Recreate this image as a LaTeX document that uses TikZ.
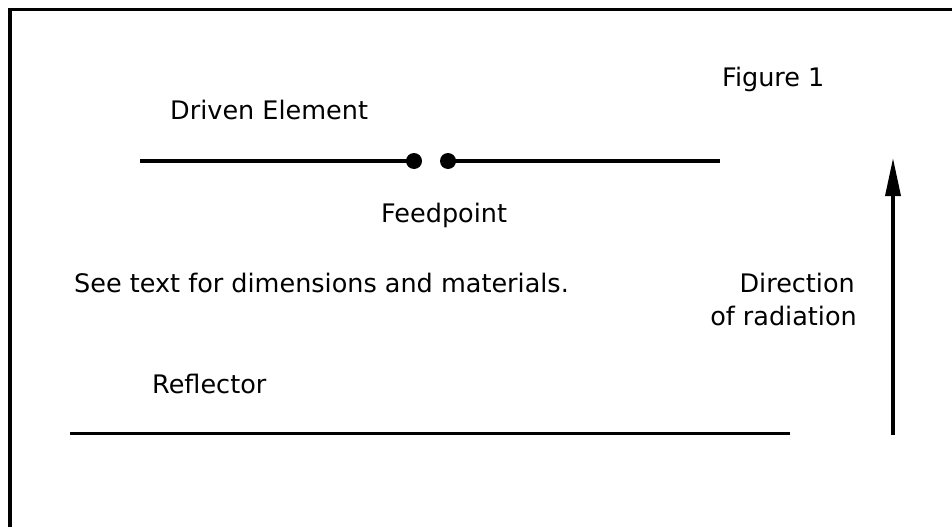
\documentclass[tikz,border=0pt]{standalone}
\usepackage{fontspec}
\setmainfont{DejaVu Sans}
\usetikzlibrary{arrows.meta}
\begin{document}
\begin{tikzpicture}[x=1pt,y=-1pt,
  lbl/.style={inner sep=0pt,font=\fontsize{25.5}{33}\selectfont},
  wire/.style={line width=3.5pt},
  fdot/.style={circle,fill=black,inner sep=0pt,minimum size=16pt}]
\useasboundingbox (0,0) rectangle (952,527);
% frame (top and left edges)
\coordinate (fr1) at (10,527);
\coordinate (fr2) at (10,9.5);
\coordinate (fr3) at (952,9.5);
\draw[line width=3.5pt] (fr1) -- (fr2) -- (fr3);
% driven element
\coordinate (dl) at (140,161);
\coordinate (dr) at (720,161);
\node[fdot] (fa) at (414,161) {};
\node[fdot] (fb) at (448,161) {};
\draw[wire] (dl) -- (fa.center);
\draw[wire] (fb.center) -- (dr);
% reflector
\coordinate (rl) at (70,433.5);
\coordinate (rr) at (790,433.5);
\draw[wire] (rl) -- (rr);
% direction arrow
\coordinate (ab) at (893,435);
\coordinate (at) at (893,158);
\draw[line width=3.5pt,-{Triangle[length=38pt,width=15pt]}] (ab) -- (at);
% labels
\node[lbl,anchor=base west] (fig) at (722,86) {Figure 1};
\node[lbl,anchor=base west] (drv) at (170,119) {Driven Element};
\node[lbl,anchor=base west] (feed) at (381,222) {Feedpoint};
\node[lbl,anchor=base west] (see) at (74,292) {See text for dimensions and materials.};
\node[lbl,anchor=base east] (dir1) at (855,292) {Direction};
\node[lbl,anchor=base east] (dir2) at (857,325) {of radiation};
\node[lbl,anchor=base west] (refl) at (152,393) {Reflector};
\end{tikzpicture}
\end{document}
